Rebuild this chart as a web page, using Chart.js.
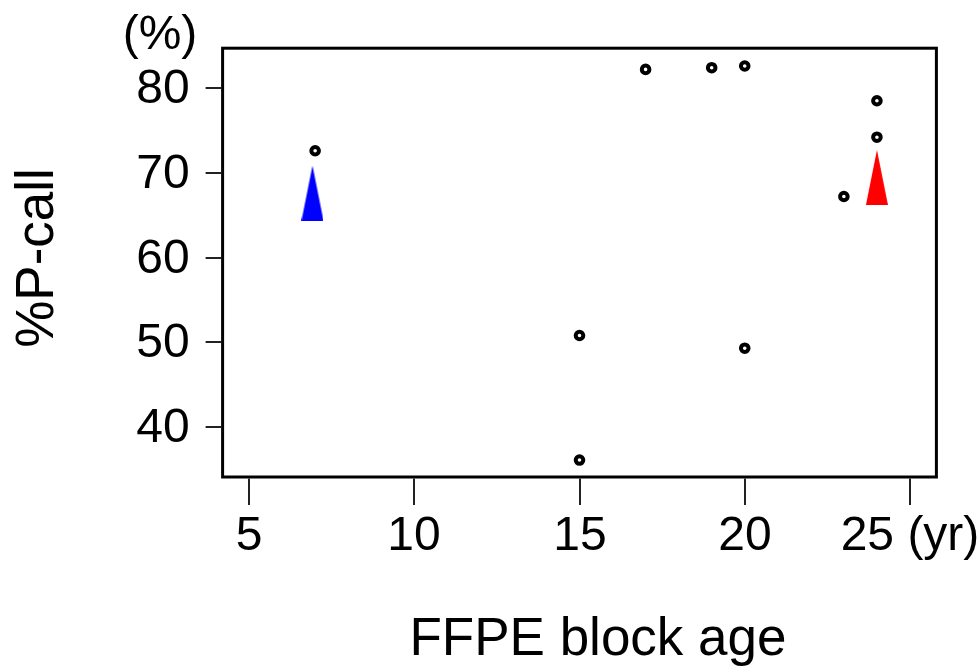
<!DOCTYPE html>
<html>
<head>
<meta charset="utf-8">
<script src="https://cdn.jsdelivr.net/npm/chart.js@4.4.1/dist/chart.umd.min.js"></script>
<style>
  html, body { margin: 0; padding: 0; background: #ffffff; }
  #c { display: block; }
</style>
</head>
<body>
<canvas id="c" width="980" height="666"></canvas>
<script>
// ---- data ----
const xTickValues = [5, 10, 15, 20, 25];
const xTickLabels = ['5', '10', '15', '20', '25 (yr)'];
const yTickValues = [40, 50, 60, 70, 80];
const yTickLabels = ['40', '50', '60', '70', '80'];
const ageYears = [7, 15, 15, 17, 19, 20, 20, 23, 24, 24];
const pCallPercent = [72.6, 50.8, 36.1, 82.2, 82.4, 82.6, 49.3, 67.2, 78.5, 74.2];
const arrowAge = [6.92, 24];
const arrowMidPercent = [67.6, 69.45];
const arrowColors = ['#0000ff', '#ff0000'];
const xTitle = 'FFPE block age';
const yTitle = '%P-call';
const yUnit = '(%)';

const FONT = '"Liberation Sans", Arial, Helvetica, sans-serif';

function makeTriangle(color) {
  const w = 22, h = 55;
  const cv = document.createElement('canvas');
  cv.width = w; cv.height = h;
  const g = cv.getContext('2d');
  g.fillStyle = color;
  g.beginPath();
  g.moveTo(w / 2, 0);
  g.lineTo(w, h);
  g.lineTo(0, h);
  g.closePath();
  g.fill();
  return cv;
}

const framePlugin = {
  id: 'framePlugin',
  afterDraw(chart) {
    const ctx = chart.ctx;
    const a = chart.chartArea;
    const xs = chart.scales.x, ys = chart.scales.y;
    ctx.save();
    // frame
    ctx.strokeStyle = '#000';
    ctx.lineWidth = 3;
    ctx.strokeRect(a.left, a.top, a.right - a.left, a.bottom - a.top);
    // x ticks
    ctx.lineWidth = 2;
    ctx.strokeStyle = '#222';
    ctx.fillStyle = '#000';
    ctx.font = '48px ' + FONT;
    ctx.textAlign = 'center';
    ctx.textBaseline = 'middle';
    xTickValues.forEach((v, i) => {
      const px = Math.round(xs.getPixelForValue(v));
      ctx.beginPath();
      ctx.moveTo(px, a.bottom + 1.5);
      ctx.lineTo(px, a.bottom + 28);
      ctx.stroke();
      ctx.fillText(xTickLabels[i], px, a.bottom + 60);
    });
    // y ticks
    ctx.textAlign = 'right';
    yTickValues.forEach((v, i) => {
      const py = Math.round(ys.getPixelForValue(v));
      ctx.beginPath();
      ctx.moveTo(a.left - 1.5, py);
      ctx.lineTo(a.left - 17, py);
      ctx.stroke();
      ctx.fillText(yTickLabels[i], a.left - 33, py + 2);
    });
    // unit label
    ctx.textAlign = 'center';
    ctx.fillText(yUnit, 160, 36);
    // x title
    ctx.font = '53px ' + FONT;
    ctx.textBaseline = 'alphabetic';
    ctx.fillText(xTitle, 598, 655);
    // y title
    ctx.translate(53, 258);
    ctx.rotate(-Math.PI / 2);
    ctx.fillText(yTitle, 0, 0);
    ctx.restore();
  }
};

new Chart(document.getElementById('c'), {
  type: 'scatter',
  data: {
    datasets: [
      {
        label: 'samples',
        data: ageYears.map((x, i) => ({ x: x, y: pCallPercent[i] })),
        pointStyle: 'circle',
        pointRadius: 3.8,
        pointBorderWidth: 4,
        pointBorderColor: '#000',
        pointBackgroundColor: '#fff',
        order: 1
      },
      {
        label: 'arrows',
        data: arrowAge.map((x, i) => ({ x: x, y: arrowMidPercent[i] })),
        pointStyle: arrowColors.map(makeTriangle),
        pointRadius: 10,
        order: 2
      }
    ]
  },
  options: {
    responsive: false,
    animation: false,
    events: [],
    layout: { padding: { left: 222.6, right: 43.6, top: 48.2, bottom: 189 } },
    plugins: { legend: { display: false }, tooltip: { enabled: false } },
    scales: {
      x: { type: 'linear', min: 4.2, max: 25.8, display: false },
      y: { type: 'linear', min: 34.1, max: 84.7, display: false }
    }
  },
  plugins: [framePlugin]
});
</script>
</body>
</html>
